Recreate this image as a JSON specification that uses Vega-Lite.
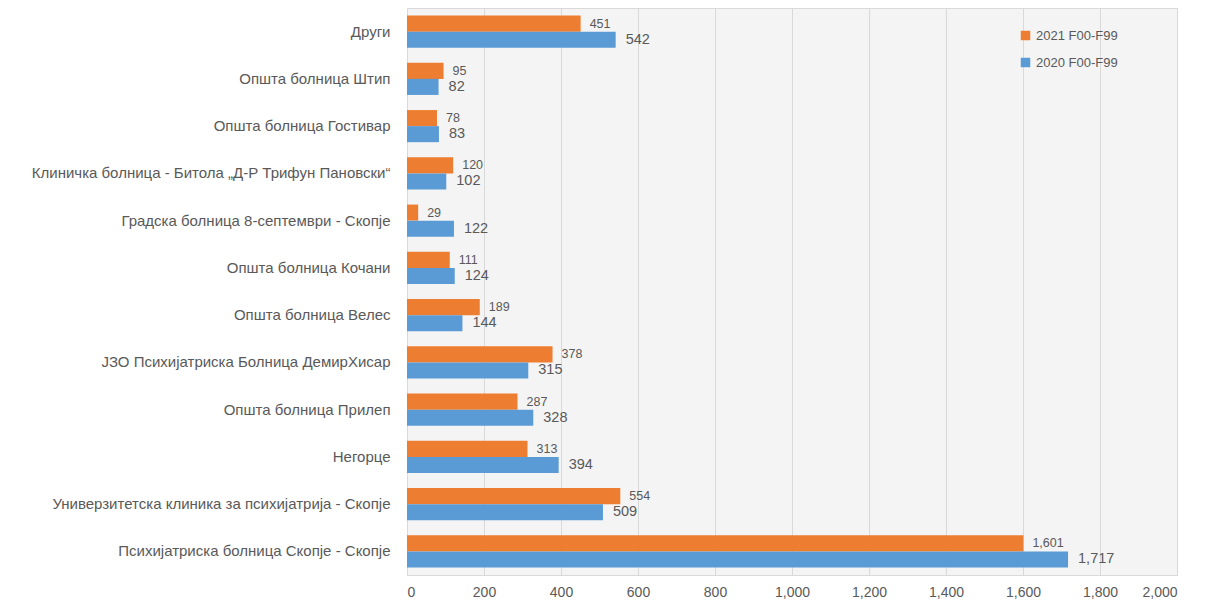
{
  "$schema": "https://vega.github.io/schema/vega-lite/v6.json",
  "width": 770,
  "height": 567,
  "padding": {"left": 7, "top": 8, "right": 20, "bottom": 5},
  "background": "white",
  "config": {
    "font": "Liberation Sans",
    "view": {"fill": "#f4f4f4", "stroke": "#d9d9d9"}
  },
  "data": {
    "values": [
      {"hospital": "Други", "series": "2021 F00-F99", "value": 451},
      {"hospital": "Други", "series": "2020 F00-F99", "value": 542},
      {"hospital": "Општа болница Штип", "series": "2021 F00-F99", "value": 95},
      {"hospital": "Општа болница Штип", "series": "2020 F00-F99", "value": 82},
      {"hospital": "Општа болница Гостивар", "series": "2021 F00-F99", "value": 78},
      {"hospital": "Општа болница Гостивар", "series": "2020 F00-F99", "value": 83},
      {"hospital": "Клиничка болница - Битола „Д-Р Трифун Пановски“", "series": "2021 F00-F99", "value": 120},
      {"hospital": "Клиничка болница - Битола „Д-Р Трифун Пановски“", "series": "2020 F00-F99", "value": 102},
      {"hospital": "Градска болница 8-септември  - Скопје", "series": "2021 F00-F99", "value": 29},
      {"hospital": "Градска болница 8-септември  - Скопје", "series": "2020 F00-F99", "value": 122},
      {"hospital": "Општа болница Кочани", "series": "2021 F00-F99", "value": 111},
      {"hospital": "Општа болница Кочани", "series": "2020 F00-F99", "value": 124},
      {"hospital": "Општа болница Велес", "series": "2021 F00-F99", "value": 189},
      {"hospital": "Општа болница Велес", "series": "2020 F00-F99", "value": 144},
      {"hospital": "ЈЗО Психијатриска Болница  ДемирХисар", "series": "2021 F00-F99", "value": 378},
      {"hospital": "ЈЗО Психијатриска Болница  ДемирХисар", "series": "2020 F00-F99", "value": 315},
      {"hospital": "Општа болница Прилеп", "series": "2021 F00-F99", "value": 287},
      {"hospital": "Општа болница Прилеп", "series": "2020 F00-F99", "value": 328},
      {"hospital": "Негорце", "series": "2021 F00-F99", "value": 313},
      {"hospital": "Негорце", "series": "2020 F00-F99", "value": 394},
      {"hospital": "Универзитетска клиника за психијатрија - Скопје", "series": "2021 F00-F99", "value": 554},
      {"hospital": "Универзитетска клиника за психијатрија - Скопје", "series": "2020 F00-F99", "value": 509},
      {"hospital": "Психијатриска болница Скопје - Скопје", "series": "2021 F00-F99", "value": 1601},
      {"hospital": "Психијатриска болница Скопје - Скопје", "series": "2020 F00-F99", "value": 1717}
    ]
  },
  "encoding": {
    "y": {
      "field": "hospital",
      "type": "nominal",
      "sort": null,
      "title": null,
      "scale": {"paddingInner": 0.32, "paddingOuter": 0.16},
      "axis": {
        "ticks": false,
        "domain": false,
        "labelPadding": 17,
        "labelFontSize": 15,
        "labelColor": "#595959",
        "labelLimit": 420,
        "minExtent": 400,
        "maxExtent": 400
      }
    },
    "yOffset": {
      "field": "series",
      "type": "nominal",
      "sort": ["2021 F00-F99", "2020 F00-F99"],
      "scale": {"paddingInner": 0}
    },
    "x": {
      "field": "value",
      "type": "quantitative",
      "title": null,
      "scale": {"domain": [0, 2000]},
      "axis": {
        "values": [0, 200, 400, 600, 800, 1000, 1200, 1400, 1600, 1800, 2000],
        "format": ",d",
        "labelOverlap": false,
        "ticks": false,
        "domain": false,
        "labelPadding": 10,
        "labelFontSize": 14,
        "labelColor": "#595959",
        "gridColor": "#d9d9d9",
        "gridWidth": 1
      }
    }
  },
  "layer": [
    {
      "mark": {"type": "bar"},
      "encoding": {
        "color": {
          "field": "series",
          "type": "nominal",
          "sort": ["2021 F00-F99", "2020 F00-F99"],
          "scale": {"domain": ["2021 F00-F99", "2020 F00-F99"], "range": ["#ED7D31", "#5B9BD5"]},
          "legend": {
            "title": null,
            "orient": "none",
            "legendX": 612,
            "legendY": 21,
            "symbolType": "square",
            "symbolSize": 90,
            "symbolStrokeWidth": 0,
            "labelFontSize": 13,
            "labelColor": "#595959",
            "rowPadding": 13
          }
        }
      }
    },
    {
      "transform": [{"filter": "datum.series === '2021 F00-F99'"}],
      "mark": {"type": "text", "align": "left", "dx": 9, "fontSize": 12.5, "color": "#595959"},
      "encoding": {"text": {"field": "value", "type": "quantitative", "format": ","}}
    },
    {
      "transform": [{"filter": "datum.series === '2020 F00-F99'"}],
      "mark": {"type": "text", "align": "left", "dx": 10, "fontSize": 14.5, "color": "#595959"},
      "encoding": {"text": {"field": "value", "type": "quantitative", "format": ","}}
    }
  ]
}
